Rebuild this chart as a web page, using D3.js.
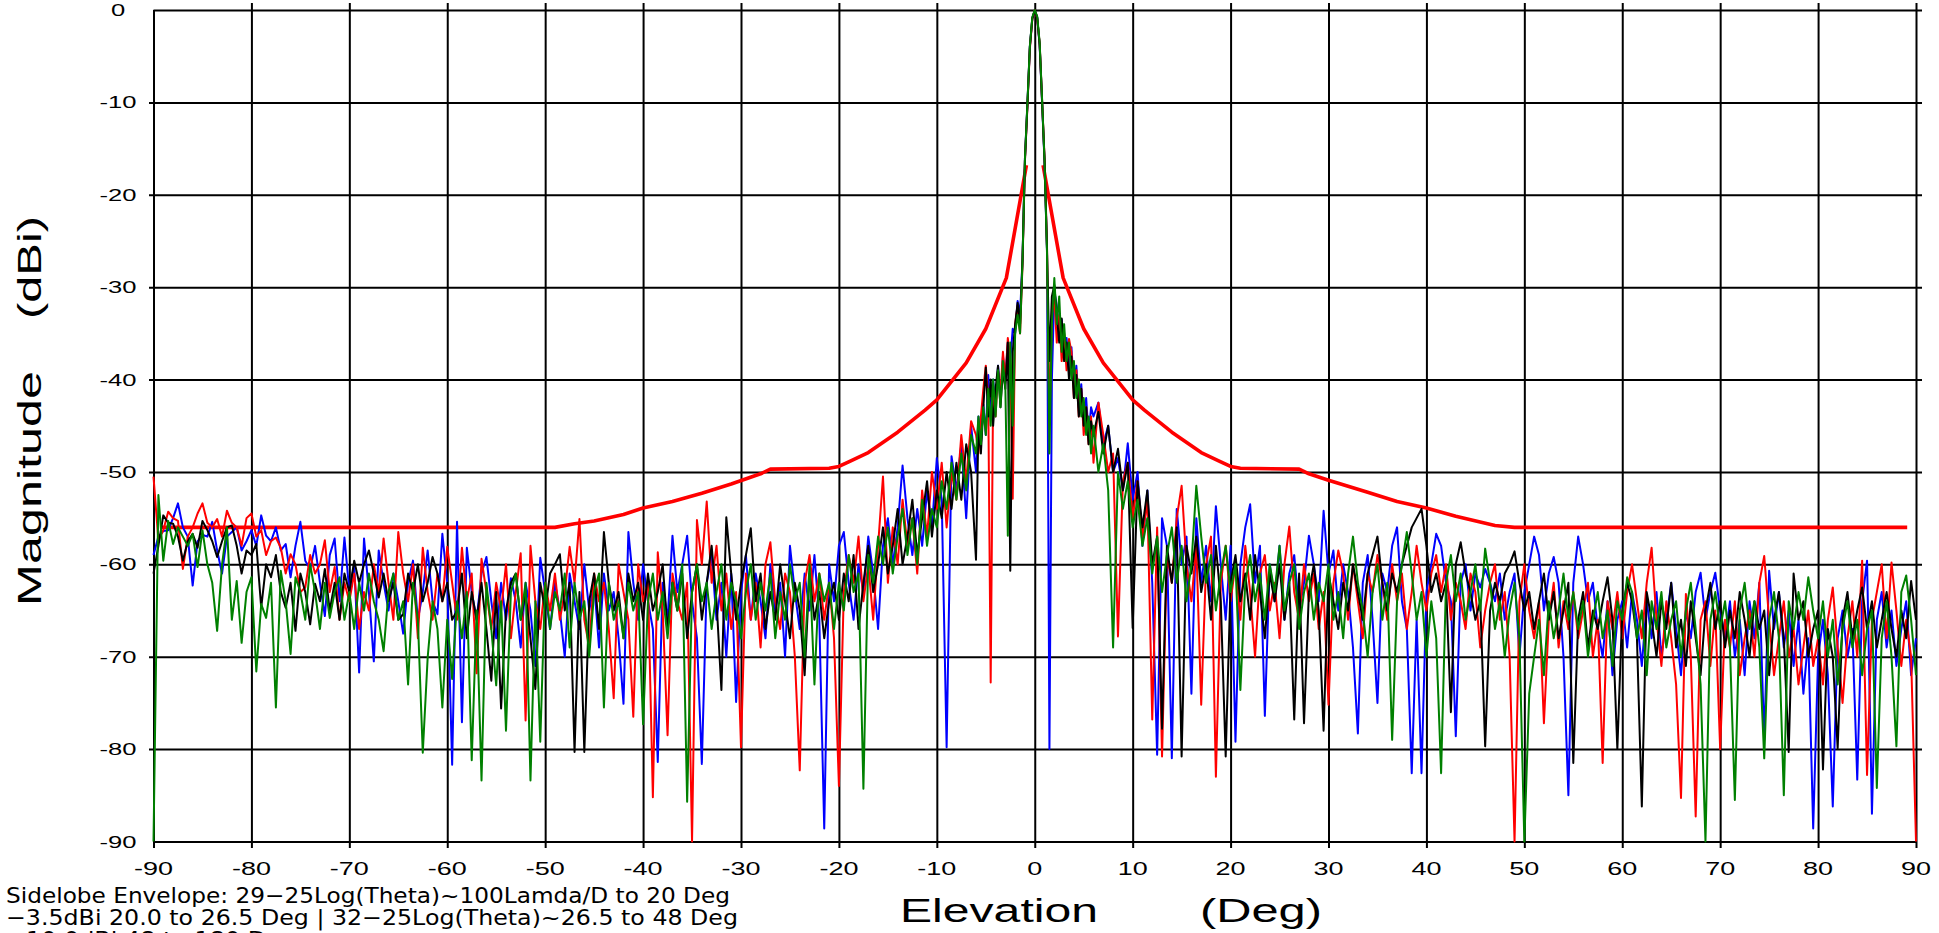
<!DOCTYPE html>
<html><head><meta charset="utf-8">
<script src="https://cdn.jsdelivr.net/npm/d3@7"></script>
<style>body{margin:0;background:#fff}svg{display:block}</style>
</head><body>
<script>
// ---------- data ----------
const xTicks = [-90,-80,-70,-60,-50,-40,-30,-20,-10,0,10,20,30,40,50,60,70,80,90];
const yTicks = [0,-10,-20,-30,-40,-50,-60,-70,-80,-90];
// sample angles (deg): 0.5 deg outside +-6, 0.25 deg in the main-beam region
const angles = [].concat(d3.range(-90,-6,0.5), d3.range(-6,6,0.25), d3.range(6,90.001,0.5));

const blue = [
-59,-57,-56.4,-56.3,-55,-53.4,-56,-57,-62.3,-57.5,-56.8,-57,-55.4,-58.5,-61,-57,-56.5,-56,-58.5,-57.5,
-56.3,-58,-54.7,-56.9,-57.5,-56,-58.5,-57.8,-61.4,-58,-55.4,-59.6,-60.5,-58,-62,-65.6,-59,-57.2,-64,-57.1,
-62.9,-60,-71.7,-57.2,-63,-70.5,-58.5,-62,-65,-61,-64,-67.5,-62,-59.6,-66,-63,-58.5,-64,-65.4,-56.7,
-62,-81.7,-55.4,-77.1,-58.2,-63,-66,-61,-59.2,-64,-68,-62,-66,-61.5,-64,-69,-62,-65,-71,-59.3,
-63,-67,-62,-65,-70,-61,-64,-67,-60,-65,-62,-69,-61,-65,-63,-68,-75.1,-56.5,-62,-66,
-60,-64,-67,-81.4,-62,-66,-56.9,-63,-60,-56.9,-64,-68,-81.6,-62,-59,-66,-62,-70,-61,-74.9,
-63,-59,-66,-61,-64,-68,-60,-65,-62,-70,-58,-63,-67,-61,-65,-59,-66,-88.6,-60,-64,
-58,-56.5,-62,-66,-60,-63,-57,-61,-67,-58,-55,-60,-56,-49.3,-55,-59,-54,-58,-52,-56,
-48.5,-53,-79.8,-48.3,-52,-47,-55,-45,
-50,-44,-47,-42.7,-46,-39.5,-44,-40,-43,-38.5,-42,-37.5,-40,-36,-38,-34.5,-35,-31.5,-33,-27,-16,-10.2,-4,-0.9,
0,-0.8,-3.8,-10,-16.5,-26,-80,-40,-30.5,-32,-34.5,-33.5,-37,-35.5,-39,-36.5,-41,-38.5,-43,-40.5,-45,-42,-46,-43,
-44,-42.5,-47,-45,-50,-48.5,-52,-46.9,
-53,-50,-58,-52,-62,-80.6,-55,-58,-81,-54,-60,-57,-74,-55,-62,-58,-64,-53.7,-60,-66,
-58,-79.2,-60,-56,-53.5,-62,-58,-76.4,-60,-64,-58,-66,-61,-59,-65,-62,-56.9,-60,-64,-54.2,
-61,-58.5,-65,-60,-63,-69,-78.3,-62,-59,-66,-75,-61,-63,-58,-56,-64,-67,-82.6,-66,-82.6,
-63,-60,-56.7,-58,-62,-64,-78.6,-62,-60,-65,-61,-62.5,-60.5,-62,-64,-61,-66,-63,-61,-70,
-63,-60,-57,-59,-65,-61,-59.2,-62,-70,-85,-62,-57,-60,-64,-62,-67,-70,-64,-72,-66,
-64,-69,-63,-66,-71,-64,-68,-63,-70,-66,-62,-67,-72,-65,-68,-63,-60.9,-66,-63,-60.9,
-65,-68,-64,-70,-66,-72,-64,-68,-62,-79,-60.7,-67,-63,-69,-65,-71,-66,-74,-68,-88.6,
-70,-66,-72,-86.2,-68,-65,-70,-67,-83.3,-64,-59.6,-87,-66,-63,-69,-65,-71,-67,-64,-72,-68
];

const red = [
-50.5,-57.4,-56.3,-54.3,-55,-55.3,-60.5,-57,-56,-54.5,-53.4,-55.5,-56,-55.1,-57,-54.2,-55.5,-56,-58,-55,
-54.5,-57,-56.3,-59,-57.5,-57.1,-58.2,-61,-58.9,-60,-63,-62.5,-59,-61,-60,-57.4,-63,-60.3,-66,-62,
-64,-61,-67,-63,-65,-60,-63,-57.2,-62,-66,-56.5,-61,-64,-60,-68,-58.2,-63,-66,-61,-64,
-58.1,-62,-66,-58.2,-64,-61,-71.8,-59.4,-63,-67,-62,-65,-60,-68,-63,-58.8,-76.9,-58,-64,-67,
-62,-65,-61,-66,-63,-58.1,-62,-55.1,-66,-69,-61,-64,-62,-67,-74.5,-60,-63,-66,-76.5,-60,
-64,-62,-85.2,-58.7,-65,-78.5,-61,-64,-66,-62,-90,-55.2,-60,-53.2,-62,-58,-65,-61,-67,-63,
-79.8,-61,-66,-62,-69,-60,-57.6,-64,-67,-61,-63,-70,-82.3,-62,-59,-64,-61,-66,-62,-68,
-84,-63,-59,-62,-57,-64,-60,-66,-58,-50.5,-62,-56,-60,-53,-58,-55,-61,-52,-57,-50,
-54,-49,-56,-50,-53,-46,-51,-44.5,
-46,-48,-44,-41,-38.5,-42,-72.8,-41,-44,-39,-41.5,-37,-40,-35.5,-38,-52.9,-34,-32,-35,-27.5,-16.3,-10.5,-4.2,-1,
0,-0.9,-3.6,-9.8,-16,-25.5,-45,-33,-31,-36,-33,-38,-35,-39,-35.6,-37,-42,-39,-44,-41,-46,-43,-47,-44,
-49,-42.5,-46,-50,-48,-67.8,-51,-49,
-55,-51,-57,-53,-76.8,-56,-80.8,-59,-62,-55,-51.5,-60,-64,-58,-75.2,-60,-57,-83,-62,-58,
-64,-60,-66,-58,-63,-70,-61,-59,-65,-62,-68,-60,-55.9,-63,-66,-60,-64,-61,-67,-63,
-75.2,-62,-58.5,-61,-66,-60,-64,-68,-61,-63,-59,-62,-66,-60,-64,-61,-67,-63,-58,-62,
-65,-61,-59,-63,-60,-66,-62,-64,-67,-61,-63,-69,-65,-62,-60,-66,-63,-70,-90,-64,
-60,-65,-68,-64,-77.2,-66,-62,-69,-64,-67,-63,-68,-65,-62,-70,-66,-81.5,-64,-67,-63,
-68,-63,-60,-64,-68,-62,-58.2,-66,-71,-64,-68,-73,-85.3,-63.2,-70,-87.3,-66,-64,-71,-65,
-80,-66,-69,-64,-72,-68,-65,-70,-62,-59.1,-66,-72,-68,-64,-70,-67,-73,-69,-65,-71,
-68,-73,-66,-62.5,-69,-75,-68,-64,-70,-59.6,-82.8,-66,-63,-60,-68,-59.8,-65,-71,-66,-70,-90
];

const black = [
-61,-58,-54.7,-55.5,-55.6,-57,-59.6,-57.5,-56.7,-58.2,-55.3,-56.3,-57.5,-59.2,-57.5,-56,-55.8,-58,-61,-58.5,
-59,-57.8,-64.7,-60,-61.4,-59,-63,-64.7,-62,-67.2,-61,-63,-66.5,-62.1,-64,-60.5,-65,-62,-66,-61,
-63,-59.6,-62,-60,-58.5,-61,-63.6,-61,-64,-62,-66,-65.4,-61,-63,-60,-64,-62,-59.2,-61,-64,
-62,-66,-65,-61,-68,-63,-66,-62,-67,-72.6,-63,-75.6,-65,-62,-61,-66,-63,-68,-73.5,-62,
-65,-61,-60,-58.9,-65,-62,-80.3,-63,-80.3,-64,-61,-67,-56.5,-62,-65,-63,-68,-61,-64,-62,
-66,-61,-65,-63,-60,-67,-62,-65,-61,-68,-63,-60,-66,-62,-58,-64,-73.6,-54.9,-61,-66,
-62,-59,-56.1,-64,-61,-67,-63,-66,-60,-64,-68,-62,-65,-72,-61,-66,-63,-68,-64,-62,
-66,-61,-64,-59,-67,-62,-58,-63,-60,-56,-61,-58,-54,-60,-57,-53,-59,-55,-51,-57,
-52,-55,-50,-54,-49,-53,-47,-50,
-59.5,-45,-48,-43,-38.7,-44,-40,-45,-41,-38.5,-43,-39,-41,-36,-60.7,-37,-34,-31.7,-34,-27,-16.2,-10.3,-4,-0.9,
-0.1,-0.8,-3.7,-9.9,-16.2,-25.8,-38,-31,-29.8,-33,-36,-33.4,-38,-36,-40,-37.5,-42,-39.5,-44,-41,-45,-43,-47,-44.5,
-46,-43.5,-48,-45,-50,-47.5,-52,-49,
-66.9,-51,-56,-52,-60,-57,-77.8,-58,-62,-56,-80.8,-58,-61,-57,-63,-60,-66,-58,-64,-80.8,
-62,-59,-64,-61,-66,-59,-63,-68,-61,-64,-60,-66,-62,-76.8,-61,-77.2,-63,-60,-65,-78,
-61,-64,-67,-62,-65,-60,-63,-66,-61,-59,-57,-62,-65,-61,-63,-60,-58,-56,-55,-54,
-58,-63,-61,-64,-62,-76,-60,-57.6,-61,-63,-66,-64,-79.7,-65,-62,-64,-61,-60,-58.6,-62,
-65,-63,-67,-64,-61,-66,-63,-68,-65,-62,-81.5,-66,-63,-69,-65,-67,-64,-61.4,-66,-80,
-65,-62,-64,-68,-86.2,-63,-66,-70,-64,-67,-62,-69,-66,-71,-64,-68,-72,-65,-62,-67,
-64,-69,-65,-68,-63,-66,-70,-64,-67,-65,-72,-66,-63,-68,-80.3,-61,-66,-64,-70,-67,
-65,-82.2,-67,-70,-79.9,-66,-63,-68,-65,-62.5,-67,-64,-69,-66,-63,-67,-70,-65,-68,-61.8,-66
];

const green = [
-90,-52.5,-59.6,-55.3,-57.8,-56,-57,-58,-56.7,-60.3,-56.3,-60,-62,-67.2,-60,-56,-66,-61.8,-68.5,-63,
-61.4,-71.6,-64.3,-65.8,-62,-75.5,-60.7,-64,-69.7,-61.4,-63,-66,-60,-63,-67,-62,-65.8,-63,-61.4,-66,
-63,-67,-62,-65,-61,-64,-66,-69.4,-63,-61,-66,-64,-73,-62,-66,-80.4,-70.1,-64,-67,-75.5,
-66,-72.4,-64,-68,-63,-81.2,-65,-83.4,-62,-67,-73.1,-64,-78,-63,-61,-66,-62,-83.4,-64,-79.2,
-62,-67,-63,-65,-61,-69,-62,-66,-64,-70,-63,-61,-75.5,-62,-66,-64,-68,-62,-65,-63,
-77.3,-64,-61,-66,-63,-68,-62,-65,-60,-85.7,-63,-60,-64,-62,-67,-63,-60,-66,-62,-64,
-68,-63,-60,-66,-62,-65,-61,-68,-63,-66,-60,-64,-62,-70,-60,-73,-61,-64,-62,-67,
-62,-65,-59,-63,-61,-84.3,-59,-62,-57,-60,-56,-61,-57,-54,-59,-55,-60,-53,-58,-54,
-56,-51,-54,-49,-53,-48,-52,-46,
-48,-44,-47,-43,-46,-41,-45,-40,-44,-39,-43,-38,-41,-56.9,-36,-45,-35,-33,-35,-27.2,-16,-10.1,-3.9,-0.8,
0,-0.7,-3.5,-9.7,-16.3,-26.2,-48,-34,-29,-34,-31,-37,-34,-38,-36,-40,-38,-42,-40,-44,-42,-46,-44,-48,
-45,-50,-47,-52,-69,-50,-54,-51,
-56,-53,-58,-55,-61,-57,-63,-59,-56,-62,-58,-64,-60,-51.5,-57,-62,-59,-65,-61,-58,
-63,-60,-73.6,-62,-59,-64,-61,-66,-60,-63,-58,-65,-62,-60,-67,-63,-61,-66,-62,-64,
-60,-66,-63,-68,-61,-57,-62,-65,-70,-63,-60,-66,-62,-79,-64,-60,-56.5,-61,-66,-63,
-70,-64,-68,-82.6,-62,-59,-64,-61,-66,-63,-60,-65,-58.3,-62,-67,-64,-70,-65,-62,-68,
-90,-74,-70,-66,-72,-64,-68,-65,-61,-66,-63,-67,-64,-70,-66,-63,-68,-65,-71,-64,
-66,-61.4,-63,-68,-65,-72,-64,-67,-63,-69,-66,-64,-70,-65,-62,-67,-73,-90,-66,-63,
-67,-64,-69,-85.5,-65,-62,-67,-64,-69,-81,-66,-63,-68,-85,-64,-67,-63,-66,-61.4,-65,
-68,-64,-70,-66,-73,-67,-64,-69,-66,-72,-67,-65,-84.2,-68,-64,-70,-79.7,-63,-61.2,-66,-72
];

// sidelobe envelope (relative dB), left and right branches
const envLeftAngle = [-89.2,-49,-47,-45,-42,-40,-37,-34,-31,-28,-27,-21,-20,-19,-17,-14,-11.2,-10,-7,-5,-2.9,-0.85];
const envLeftLevel = [-56,-56,-55.6,-55.3,-54.6,-53.9,-53.2,-52.3,-51.3,-50.2,-49.7,-49.6,-49.4,-48.9,-47.9,-45.7,-43.3,-42.2,-38.2,-34.5,-29,-16.8];
const envRightAngle = [0.85,2.9,5,7,10,11.2,14,17,19,20,21,27,28,30,34,37,40,43,47,49,89.1];
const envRightLevel = [-16.8,-29,-34.5,-38.2,-42.2,-43.3,-45.7,-47.9,-48.9,-49.4,-49.6,-49.7,-50.2,-50.9,-52.2,-53.2,-53.9,-54.8,-55.8,-56,-56];

const noteLines = [
  "Sidelobe Envelope: 29\u221225Log(Theta)~100Lamda/D to 20 Deg",
  "\u22123.5dBi 20.0 to 26.5 Deg | 32\u221225Log(Theta)~26.5 to 48 Deg",
  "\u221210.0dBi 48 to 180 Deg"
];

// ---------- drawing ----------
const W = 1939, H = 933;
const FONT = "'Liberation Sans', Arial, sans-serif";
const svg = d3.select('body').append('svg').attr('width', W).attr('height', H);
svg.append('rect').attr('width', W).attr('height', H).attr('fill', '#fff');

const x = d3.scaleLinear().domain([-90, 90]).range([153.5, 1916]);
const y = d3.scaleLinear().domain([-90, 0]).range([841.5, 10]);

// vertical grid (x axis ticks)
const gx = svg.append('g').attr('transform', 'translate(0,848)')
  .call(d3.axisBottom(x).tickValues(xTicks).tickSize(-845).tickFormat(''));
gx.select('.domain').remove();
gx.selectAll('.tick line').attr('stroke', '#000').attr('stroke-width', 2)
  .attr('y2', d => d === -90 ? -838 : -845);

// horizontal grid (y axis ticks)
const gy = svg.append('g').attr('transform', 'translate(149,0)')
  .call(d3.axisRight(y).tickValues(yTicks).tickSize(1773).tickFormat(''));
gy.select('.domain').remove();
gy.selectAll('.tick line').attr('stroke', '#000').attr('stroke-width', 2)
  .attr('x1', d => (d === 0 || d === -90) ? 4.5 : 0)
  .attr('x2', d => d === -90 ? 1767 : 1773);

// envelope
const envLine = d3.line().x(d => x(d[0])).y(d => y(d[1]));
[[envLeftAngle, envLeftLevel], [envRightAngle, envRightLevel]].forEach(([a, l]) => {
  svg.append('path').datum(a.map((v, i) => [v, l[i]]))
    .attr('d', envLine).attr('fill', 'none').attr('stroke', '#ff0000')
    .attr('stroke-width', 3.6).attr('stroke-linejoin', 'round');
});

// measured series
const line = d3.line().x(d => x(d[0])).y(d => y(d[1]));
const series = [[blue, '#0000ff'], [red, '#ff0000'], [black, '#000000'], [green, '#008000']];
series.forEach(([vals, col]) => {
  const n = Math.min(vals.length, angles.length);
  if (vals.length !== angles.length) console.error('length mismatch', vals.length, angles.length);
  const pts = d3.range(n).map(i => [angles[i], vals[i]]);
  svg.append('path').datum(pts).attr('d', line).attr('fill', 'none')
    .attr('stroke', col).attr('stroke-width', 2).attr('stroke-linejoin', 'round');
});

// tick labels
svg.append('g').selectAll('text').data(yTicks).join('text')
  .attr('transform', d => `translate(118,${y(d) + 6}) scale(1.6,1)`)
  .attr('text-anchor', 'middle').attr('font-family', FONT).attr('font-size', 16)
  .text(d => String(d));
svg.append('g').selectAll('text').data(xTicks).join('text')
  .attr('transform', d => `translate(${x(d)},875) scale(1.5,1)`)
  .attr('text-anchor', 'middle').attr('font-family', FONT).attr('font-size', 18)
  .text(d => String(d));

// axis titles
const title = (txt, tx, ty, rot, len) => svg.append('text')
  .attr('transform', `translate(${tx},${ty})` + (rot ? ' rotate(-90)' : ''))
  .attr('font-family', FONT).attr('font-size', 33)
  .attr('textLength', len).attr('lengthAdjust', 'spacingAndGlyphs').text(txt);
title('Elevation', 900, 922, false, 198);
title('(Deg)', 1200, 922, false, 122);
title('Magnitude', 41, 606, true, 235);
title('(dBi)', 41, 319, true, 103);

// envelope note (third line runs off the bottom edge, as in the original)
const noteLen = [724, 732, 290];
noteLines.forEach((t, i) => {
  svg.append('text').attr('x', 6).attr('y', 903 + i * 22)
    .attr('font-family', "'DejaVu Sans', sans-serif").attr('font-size', 22)
    .attr('textLength', noteLen[i]).attr('lengthAdjust', 'spacingAndGlyphs').text(t);
});
</script>
</body></html>
